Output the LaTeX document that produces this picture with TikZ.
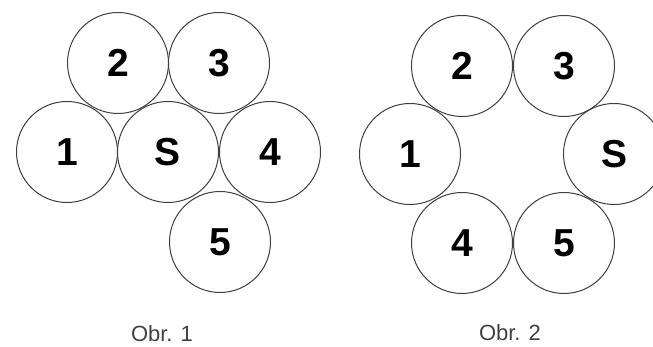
\documentclass[tikz,border=0pt]{standalone}
\usepackage{fontspec}
\setmainfont{Liberation Sans}
\begin{document}
\begin{tikzpicture}[x=1pt, y=-1pt,
    ball/.style={circle, draw=black!75, line width=1pt, minimum size=101pt,
      inner sep=0pt, font=\bfseries\fontsize{39}{39}\selectfont},
    caption/.style={font=\fontsize{22}{22}\selectfont, text=black!75}]
  \clip (0,0) rectangle (653,347);

  % Obr. 1
  \node[ball] (a2) at (118, 63) {2};
  \node[ball] (a3) at (219, 63) {3};
  \node[ball] (a1) at (67, 152) {1};
  \node[ball] (aS) at (168, 152) {S};
  \node[ball] (a4) at (270, 152) {4};
  \node[ball] (a5) at (220, 242) {5};
  \node[caption] (obr1) at (162, 334) {Obr. 1};

  % Obr. 2
  \node[ball] (b2) at (462, 66) {2};
  \node[ball] (b3) at (564, 66) {3};
  \node[ball] (b1) at (410, 154) {1};
  \node[ball] (bS) at (614, 154) {S};
  \node[ball] (b4) at (462, 243) {4};
  \node[ball] (b5) at (564, 243) {5};
  \node[caption] (obr2) at (510, 333) {Obr. 2};
\end{tikzpicture}
\end{document}
